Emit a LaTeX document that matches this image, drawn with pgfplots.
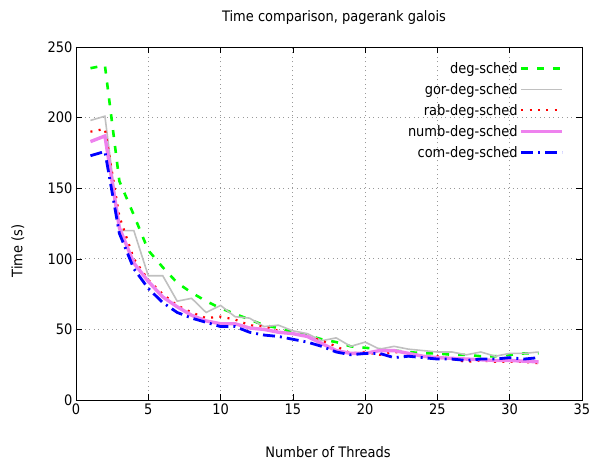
\documentclass[border=0pt]{standalone}
\usepackage{pgfplots}
\pgfplotsset{compat=1.18}
\usepackage{fontspec}
\setmainfont{DejaVu Sans Condensed}

\definecolor{cgreen}{RGB}{0,255,0}
\definecolor{cgray}{RGB}{192,192,192}
\definecolor{cred}{RGB}{255,0,0}
\definecolor{cviolet}{RGB}{238,130,238}
\definecolor{cblue}{RGB}{0,0,255}

\begin{document}
\begin{tikzpicture}
\useasboundingbox (-76bp,-64bp) rectangle (516bp,400bp);
\begin{axis}[
    scale only axis,
    width=506bp, height=353bp,
    xmin=0, xmax=35, ymin=0, ymax=250,
    xtick={0,5,...,35}, ytick={0,50,...,250},
    tick align=inside,
    major tick length=6bp,
    tick style={black, line width=0.6bp},
    axis line style={black, line width=0.8bp},
    grid=major,
    grid style={gray!80, line width=0.8bp, dash pattern=on 1bp off 3.5bp},
    font=\fontsize{14.5}{17}\selectfont,
    /pgf/number format/assume math mode=true,
    title={Time comparison, pagerank galois},
    title style={at={(axis description cs:0.51,1.066)}, anchor=center, yshift=0pt},
    xlabel={Number of Threads},
    xlabel style={at={(axis description cs:0.498,-0.147)}, anchor=center},
    ylabel={Time (s)},
    ylabel style={at={(axis description cs:-0.115,0.422)}, anchor=center},
    legend cell align=right,
    legend plot pos=right,
    legend style={draw=none, fill=none, at={(axis description cs:0.965,0.963)},
      anchor=north east, row sep=4.5bp, inner sep=0pt,
      nodes={inner sep=2pt}},
    legend image code/.code={\draw[#1] (0bp,0bp) -- (41bp,0bp);},
  ]
\addplot[cgreen, line width=2.6bp, dash pattern=on 7bp off 9bp] coordinates {
(1,235) (2,237) (3,155) (4,131) (5,106) (6,94) (7,83) (8,76) (9,70) (10,65)
(11,61) (12,57) (13,53) (14,51) (15,48) (16,46) (17,43) (18,41) (19,38) (20,37)
(21,36) (22,35) (23,34) (24,33) (25,33) (26,32) (27,32) (28,31) (29,31) (30,32)
(31,33) (32,33)};
\addlegendentry{deg-sched}
\addplot[cgray, line width=1.6bp] coordinates {
(1,198) (2,201) (3,120) (4,120) (5,88) (6,88) (7,70) (8,72) (9,62) (10,67)
(11,59) (12,58) (13,52) (14,53) (15,49) (16,47) (17,42) (18,44) (19,38) (20,41)
(21,36) (22,38) (23,36) (24,35) (25,34) (26,34) (27,32) (28,34) (29,31) (30,33)
(31,33) (32,34)};
\addlegendentry{gor-deg-sched}
\addplot[cred, line width=2.2bp, dash pattern=on 2bp off 6.3bp] coordinates {
(1,190) (2,192) (3,130) (4,100) (5,85) (6,75) (7,67) (8,62) (9,58) (10,59)
(11,57) (12,53) (13,52) (14,49) (15,47) (16,45) (17,42) (18,38) (19,33) (20,34)
(21,32) (22,34) (23,33) (24,31) (25,31) (26,29) (27,27) (28,28) (29,27) (30,27)
(31,27) (32,26)};
\addlegendentry{rab-deg-sched}
\addplot[cviolet, line width=3.4bp] coordinates {
(1,183) (2,187) (3,122) (4,97) (5,84) (6,73) (7,66) (8,60) (9,56) (10,54)
(11,54) (12,51) (13,50) (14,48) (15,47) (16,45) (17,40) (18,35) (19,33) (20,33)
(21,35) (22,35) (23,33) (24,31) (25,30) (26,29.5) (27,29) (28,28.5) (29,28) (30,28)
(31,27.5) (32,27)};
\addlegendentry{numb-deg-sched}
\addplot[cblue, line width=2.8bp, dash pattern=on 12bp off 5bp on 2bp off 5bp] coordinates {
(1,173) (2,176) (3,118) (4,93) (5,79) (6,69) (7,62) (8,58) (9,55) (10,52)
(11,52) (12,48) (13,46) (14,45) (15,43) (16,41) (17,38) (18,34) (19,32) (20,33)
(21,33) (22,30) (23,31) (24,30) (25,29) (26,29) (27,28) (28,29) (29,29) (30,30)
(31,29) (32,30)};
\addlegendentry{com-deg-sched}
\end{axis}
\end{tikzpicture}
\end{document}
